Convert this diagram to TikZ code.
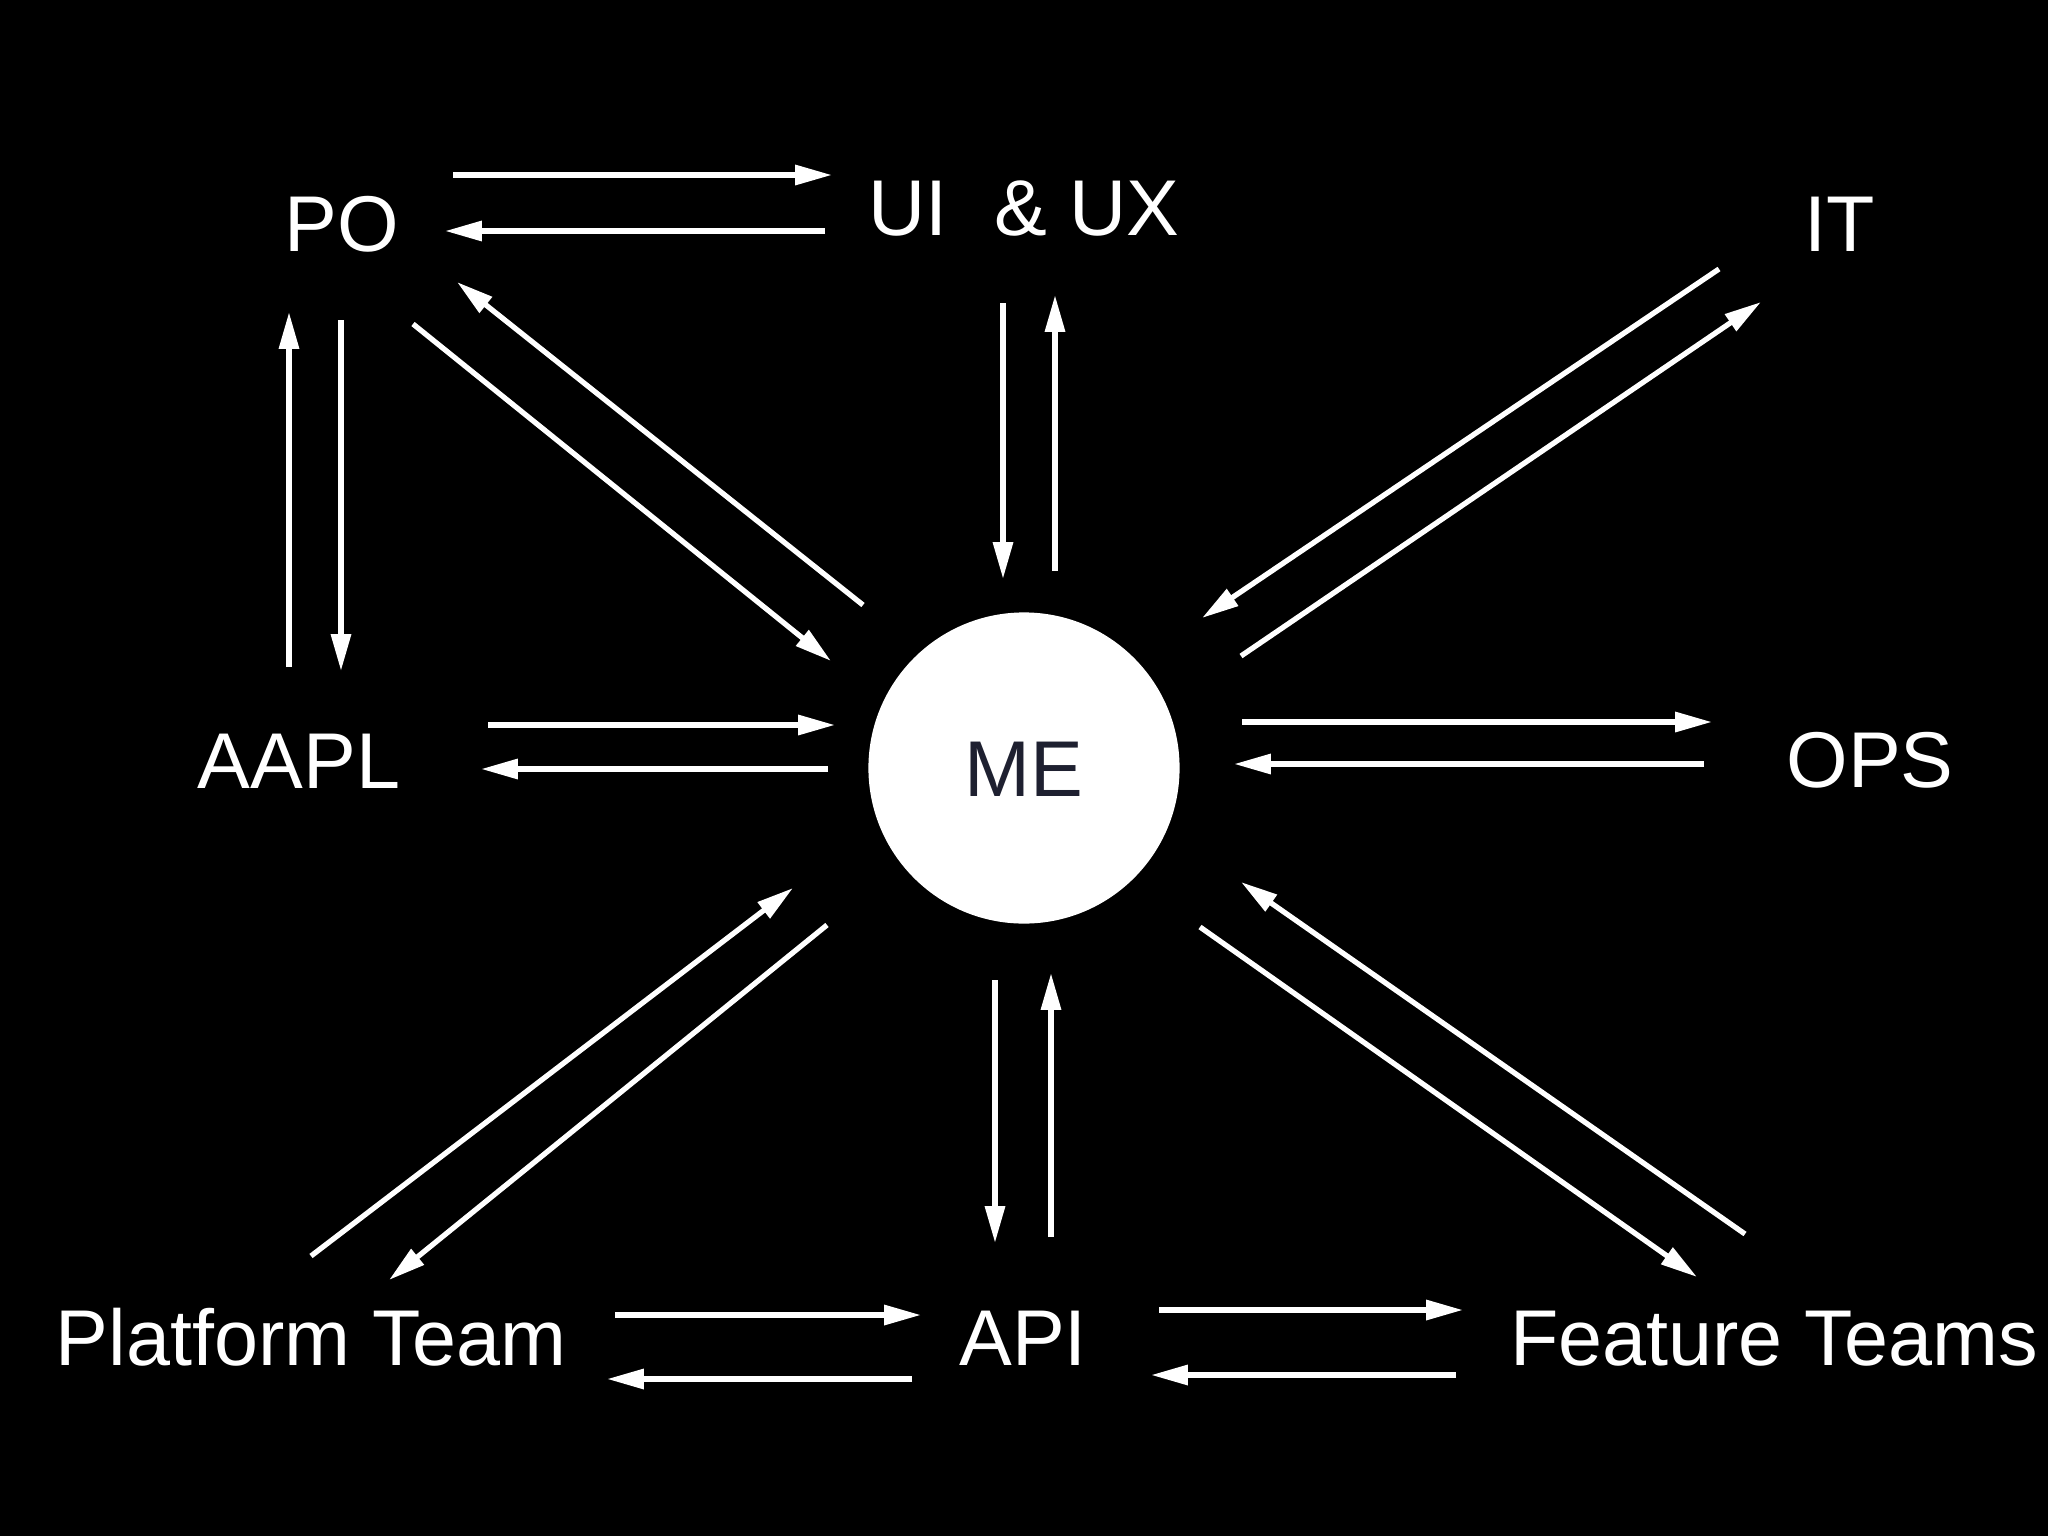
\documentclass[tikz,border=0pt]{standalone}
\usepackage{fontspec}
\setmainfont{Liberation Sans}
\usetikzlibrary{arrows.meta}
\definecolor{metext}{HTML}{1E2030}
\begin{document}
\begin{tikzpicture}[x=0.01cm,y=-0.01cm,
  lbl/.style={text=white,font=\fontsize{22.5}{27}\selectfont,inner sep=0pt,anchor=base},
  conn/.style={draw=white,line width=1.5pt,-{Triangle[length=10.5pt,width=5.5pt]}}]
\fill[black] (0,0) rectangle (2048,1536);
\useasboundingbox (0,0) rectangle (2048,1536);
% labels
\node[lbl] (po) at (342,251) {PO};
\node[lbl] (ui) at (1024,235) {UI\hspace{0.6em}\& UX};
\node[lbl] (it) at (1840,251) {IT};
\node[lbl] (aapl) at (299,788) {AAPL};
\node[lbl] (ops) at (1870,787) {OPS};
\node[lbl] (pt) at (311,1365) {Platform Team};
\node[lbl] (api) at (1023,1365) {API};
\node[lbl] (ft) at (1774,1365) {Feature Teams};
\node[circle,fill=white,minimum size=3.11cm,inner sep=0pt] (me) at (1024,768) {};
\node[lbl,text=metext] (metxt) at (1024,796) {ME};
% connector endpoints
\coordinate (poui1) at (453,175);  \coordinate (poui2) at (832,175);
\coordinate (uipo1) at (825,231);  \coordinate (uipo2) at (445,231);
\coordinate (uime1) at (1003,303); \coordinate (uime2) at (1003,579);
\coordinate (meui1) at (1055,571); \coordinate (meui2) at (1055,295);
\coordinate (itme1) at (1719,269); \coordinate (itme2) at (1202,618);
\coordinate (meit1) at (1241,656); \coordinate (meit2) at (1761,302);
\coordinate (meops1) at (1242,722); \coordinate (meops2) at (1712,722);
\coordinate (opsme1) at (1704,764); \coordinate (opsme2) at (1234,764);
\coordinate (ftme1) at (1745,1234); \coordinate (ftme2) at (1241,882);
\coordinate (meft1) at (1200,927); \coordinate (meft2) at (1697,1277);
\coordinate (meapi1) at (995,980); \coordinate (meapi2) at (995,1243);
\coordinate (apime1) at (1051,1237); \coordinate (apime2) at (1051,973);
\coordinate (apift1) at (1159,1310); \coordinate (apift2) at (1463,1310);
\coordinate (ftapi1) at (1456,1375); \coordinate (ftapi2) at (1151,1375);
\coordinate (ptapi1) at (615,1315); \coordinate (ptapi2) at (921,1315);
\coordinate (apipt1) at (912,1379); \coordinate (apipt2) at (607,1379);
\coordinate (ptme1) at (311,1256); \coordinate (ptme2) at (793,888);
\coordinate (mept1) at (827,925); \coordinate (mept2) at (389,1280);
\coordinate (aaplme1) at (488,725); \coordinate (aaplme2) at (835,725);
\coordinate (meaapl1) at (828,769); \coordinate (meaapl2) at (481,769);
\coordinate (aaplpo1) at (289,667); \coordinate (aaplpo2) at (289,312);
\coordinate (poaapl1) at (341,320); \coordinate (poaapl2) at (341,671);
\coordinate (pome1) at (413,324); \coordinate (pome2) at (831,661);
\coordinate (mepo1) at (863,605); \coordinate (mepo2) at (457,282);
% connectors
\foreach \c in {poui,uipo,uime,meui,itme,meit,meops,opsme,ftme,meft,meapi,apime,apift,ftapi,ptapi,apipt,ptme,mept,aaplme,meaapl,aaplpo,poaapl,pome,mepo}
  \draw[conn] (\c1) -- (\c2);
\end{tikzpicture}
\end{document}
